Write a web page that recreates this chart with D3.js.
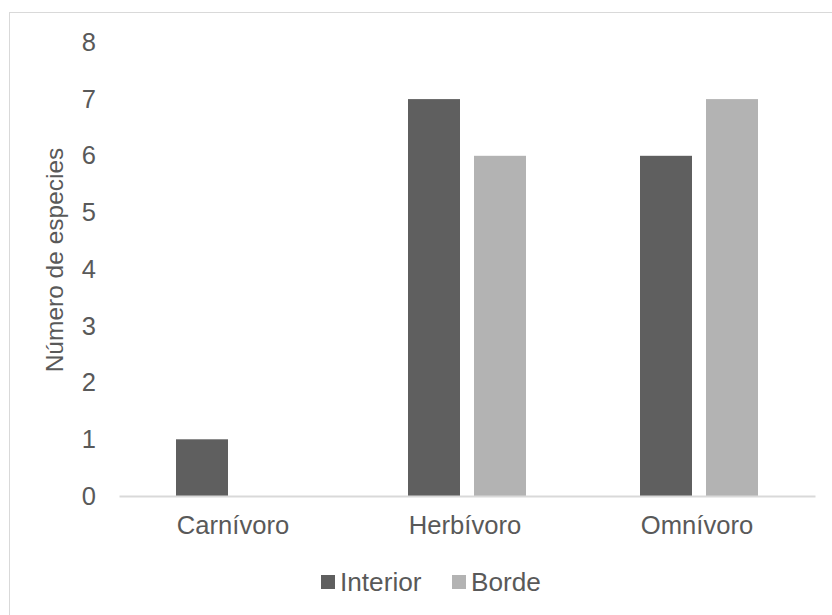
<!DOCTYPE html>
<html><head><meta charset="utf-8">
<script src="https://cdn.jsdelivr.net/npm/d3@7"></script>
<style>body{margin:0;background:#fff}svg{display:block}text{font-family:"Liberation Sans",Arial,sans-serif;fill:#595959}</style>
</head><body>
<svg id="c" width="832" height="615"></svg>
<script>
const categories = ["Carnívoro", "Herbívoro", "Omnívoro"];
const seriesNames = ["Interior", "Borde"];
const interiorValues = [1, 7, 6];
const bordeValues = [0, 6, 7];
const yTicks = [0, 1, 2, 3, 4, 5, 6, 7, 8];
const colors = ["#5f5f5f", "#b3b3b3"];

const svg = d3.select("#c");
svg.append("rect").attr("x", 9.5).attr("y", 12.5).attr("width", 840).attr("height", 640)
  .attr("fill", "#fff").attr("stroke", "#d9d9d9").attr("stroke-width", 1);

const x0 = d3.scaleBand().domain(categories).range([119, 815]).paddingInner(0).paddingOuter(0);
const x1 = d3.scaleBand().domain(seriesNames).range([57, 175]).paddingInner(14/66).paddingOuter(0);
const y = d3.scaleLinear().domain([0, 8]).range([496, 42.4]);

const data = categories.map((c, i) => ({cat: c, vals: [interiorValues[i], bordeValues[i]]}));

const g = svg.append("g");
data.forEach(d => {
  seriesNames.forEach((s, j) => {
    if (d.vals[j] <= 0) return;
    g.append("rect")
      .attr("x", x0(d.cat) + x1(s))
      .attr("y", y(d.vals[j]))
      .attr("width", x1.bandwidth())
      .attr("height", y(0) - y(d.vals[j]))
      .attr("fill", colors[j]);
  });
});

// y axis labels
const yAxis = d3.axisLeft(y).tickValues(yTicks).tickSize(0).tickPadding(23).tickFormat(d3.format("d"));
const ya = svg.append("g").attr("transform", "translate(119,0)").call(yAxis);
ya.select(".domain").remove();
ya.attr("font-size", null).attr("font-family", null);
ya.selectAll("text").style("font-size", "25.5px").style("fill", "#595959");

// x axis
const xAxis = d3.axisBottom(x0).tickSize(0).tickPadding(20);
const xa = svg.append("g").attr("transform", "translate(0,496)").call(xAxis);
xa.attr("font-size", null).attr("font-family", null);
xa.select(".domain").attr("stroke", "#d9d9d9").attr("stroke-width", 2);
xa.selectAll("text").style("font-size", "25.6px").style("fill", "#595959").attr("dx", -2);

// y title
svg.append("text").attr("transform", "translate(63,260) rotate(-90)")
  .attr("text-anchor", "middle").style("font-size", "24.5px").text("Número de especies");

// legend
const legendX = [321, 452];
seriesNames.forEach((s, j) => {
  svg.append("rect").attr("x", legendX[j]).attr("y", 575).attr("width", 14).attr("height", 14).attr("fill", colors[j]);
  svg.append("text").attr("x", legendX[j] + 19).attr("y", 591).style("font-size", "26.2px").text(s);
});
</script>
</body></html>
